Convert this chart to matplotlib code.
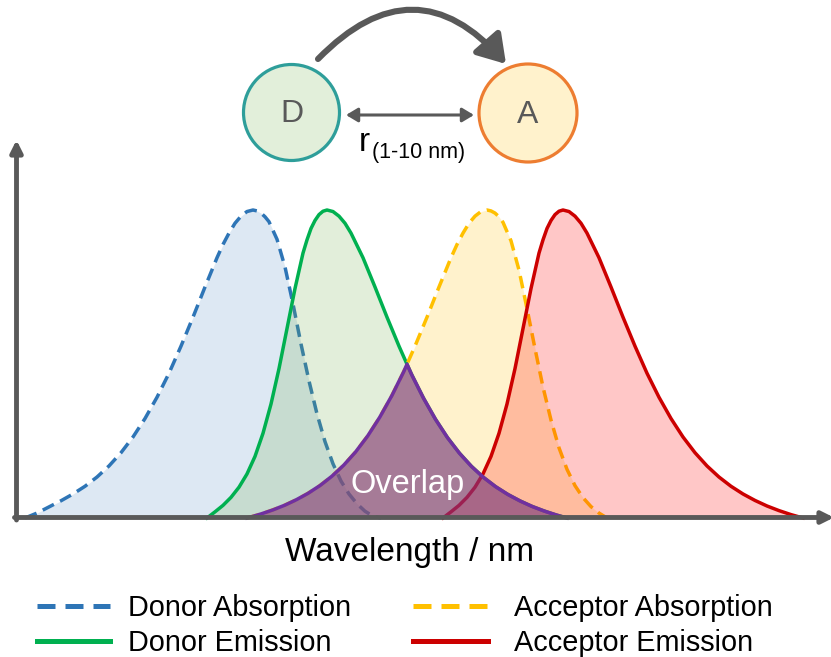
import numpy as np
import matplotlib
matplotlib.use("Agg")
import matplotlib.pyplot as plt
from matplotlib.patches import Circle, FancyArrowPatch
from matplotlib.lines import Line2D

plt.rcParams['font.family'] = ['Liberation Sans', 'DejaVu Sans']

# spectra: wavelength in arbitrary units (no ticks), intensity normalised to peak
donor_abs_wl = [25, 37, 49, 61, 73, 85, 97, 109, 121, 133, 145, 157, 169, 181, 193, 205, 217, 223, 229,
                235, 241, 247, 253, 257, 261, 265, 269, 277, 285, 293, 301, 309, 317, 325, 333, 341, 349,
                357, 365, 373, 381]
donor_abs_int = [0.0, 0.016, 0.036, 0.056, 0.078, 0.103, 0.133, 0.169, 0.212, 0.263, 0.323, 0.392, 0.47,
                 0.558, 0.652, 0.75, 0.845, 0.888, 0.925, 0.957, 0.98, 0.995, 1.0, 0.997, 0.99, 0.978,
                 0.962, 0.905, 0.815, 0.695, 0.565, 0.445, 0.338, 0.248, 0.176, 0.12, 0.078, 0.046,
                 0.022, 0.006, 0.0]

donor_em_wl = [207, 215, 223, 231, 239, 247, 255, 263, 271, 279, 287, 295, 303, 307, 311, 315, 319, 323,
               327, 333, 339, 345, 351, 363, 375, 387, 399, 411, 423, 435, 447, 459, 471, 483, 495, 507,
               519, 531, 543, 555, 567]
donor_em_int = [0.0, 0.02, 0.041, 0.067, 0.1, 0.143, 0.2, 0.275, 0.37, 0.485, 0.615, 0.745, 0.86, 0.903,
                0.94, 0.966, 0.985, 0.996, 1.0, 0.995, 0.98, 0.957, 0.925, 0.845, 0.75, 0.652, 0.558,
                0.47, 0.392, 0.323, 0.263, 0.212, 0.169, 0.133, 0.103, 0.078, 0.057, 0.039, 0.024,
                0.011, 0.0]

acc_abs_wl = [247, 259, 271, 283, 295, 307, 319, 331, 343, 355, 367, 379, 391, 403, 415, 427, 439, 451,
              457, 463, 469, 475, 481, 487, 491, 495, 499, 503, 511, 519, 527, 535, 543, 551, 559, 567,
              575, 583, 591, 599, 607]
acc_abs_int = [0.0, 0.011, 0.024, 0.039, 0.057, 0.078, 0.103, 0.133, 0.169, 0.212, 0.263, 0.323, 0.392,
               0.47, 0.558, 0.652, 0.75, 0.845, 0.888, 0.925, 0.957, 0.98, 0.995, 1.0, 0.997, 0.99,
               0.978, 0.96, 0.9, 0.805, 0.68, 0.55, 0.425, 0.318, 0.228, 0.158, 0.105, 0.066, 0.037,
               0.016, 0.0]

acc_em_wl = [443, 451, 459, 467, 475, 483, 491, 499, 507, 515, 523, 531, 539, 543, 547, 551, 555, 559,
             563, 569, 575, 581, 587, 599, 611, 623, 635, 647, 659, 671, 683, 695, 707, 719, 731, 743,
             755, 767, 779, 791, 803]
acc_em_int = [0.0, 0.02, 0.041, 0.067, 0.1, 0.143, 0.2, 0.275, 0.37, 0.485, 0.615, 0.745, 0.86, 0.903,
              0.94, 0.966, 0.985, 0.996, 1.0, 0.995, 0.98, 0.957, 0.925, 0.845, 0.75, 0.652, 0.558,
              0.47, 0.392, 0.323, 0.263, 0.212, 0.169, 0.133, 0.103, 0.078, 0.057, 0.039, 0.024,
              0.011, 0.0]

labels = ['Donor Absorption', 'Donor Emission', 'Acceptor Absorption', 'Acceptor Emission']
colors = ['#2e75b6', '#00b050', '#ffc000', '#cc0000']
fills = [('#2e75b6', 0.16), ('#70ad47', 0.2), ('#ffc000', 0.2), ('#ff0000', 0.22)]
dashed = [True, False, True, False]
gray = '#595959'

fig = plt.figure(figsize=(8.31, 6.57), dpi=100)
ax = fig.add_axes([0, 0, 1, 1])
ax.set_xlim(0, 831)
ax.set_ylim(-139 / 308, 518 / 308)
ax.axis('off')

series = [(donor_abs_wl, donor_abs_int), (donor_em_wl, donor_em_int),
          (acc_abs_wl, acc_abs_int), (acc_em_wl, acc_em_int)]
z = 1
for (wl, inten), c, (fc, fa), d in zip(series, colors, fills, dashed):
    ax.fill_between(wl, 0, inten, color=fc, alpha=fa, lw=0, zorder=z)
    ln, = ax.plot(wl, inten, color=c, lw=2.5, zorder=z + 1, solid_joinstyle='round')
    if d:
        ln.set_dashes((3.6, 2))
    z += 2

# spectral overlap = min(donor emission, acceptor absorption)
grid = np.arange(acc_abs_wl[0], donor_em_wl[-1] + 0.25, 0.25)
ov_int = np.minimum(np.interp(grid, donor_em_wl, donor_em_int), np.interp(grid, acc_abs_wl, acc_abs_int))
ax.fill_between(grid, 0, ov_int, color='#7c3688', alpha=0.6, lw=0, zorder=9)
ax.plot(grid, ov_int, color='#7030a0', lw=2.5, zorder=10, solid_joinstyle='round')
ax.text(408, 0.11, 'Overlap', color='white', fontsize=23.5, ha='center', va='center', zorder=11)

# overlay in pixel coords for axes arrows, FRET scheme, labels
ov = fig.add_axes([0, 0, 1, 1])
ov.set_xlim(0, 831)
ov.set_ylim(657, 0)
ov.axis('off')
ov.patch.set_alpha(0)

ov.annotate('', xy=(16.5, 140), xytext=(16.5, 520), annotation_clip=False,
            arrowprops=dict(arrowstyle='-|>,head_length=0.5,head_width=0.25', color=gray, lw=3.5,
                            mutation_scale=14, shrinkA=0, shrinkB=0))
ov.annotate('', xy=(834, 517.5), xytext=(14.5, 517.5), annotation_clip=False,
            arrowprops=dict(arrowstyle='-|>,head_length=0.5,head_width=0.25', color=gray, lw=3.5,
                            mutation_scale=14, shrinkA=0, shrinkB=0))

ov.add_patch(Circle((291.5, 112.5), 48, facecolor='#e2efda', edgecolor='#2e9e9a', lw=2.3))
ov.add_patch(Circle((528, 113), 49, facecolor='#fff2cc', edgecolor='#ed7d31', lw=2.3))
ov.text(291.5, 114, 'D', fontsize=23, color=gray, ha='center', va='center')
ov.text(528, 115, 'A', fontsize=23, color=gray, ha='center', va='center')

ov.annotate('', xy=(346, 115), xytext=(474, 115),
            arrowprops=dict(arrowstyle='<|-|>,head_length=0.5,head_width=0.3', color=gray, lw=2.2,
                            mutation_scale=14, shrinkA=0, shrinkB=0))
ov.text(359, 151, 'r', fontsize=24, color='black', ha='left', va='baseline')
ov.text(372, 158, '(1-10 nm)', fontsize=15.5, color='black', ha='left', va='baseline')

ov.add_patch(FancyArrowPatch((318, 59), (506, 64), connectionstyle='arc3,rad=-0.54',
                             arrowstyle='-|>,head_length=0.55,head_width=0.35', mutation_scale=30,
                             color=gray, lw=4.4, shrinkA=0, shrinkB=0))

ov.text(410, 552, 'Wavelength / nm', fontsize=24, ha='center', va='center')

handles = []
for c, d in zip(colors, dashed):
    h = Line2D([0], [0], color=c, lw=3.6)
    if d:
        h.set_dashes((3.6, 2))
    handles.append(h)
leg_kw = dict(loc='upper left', frameon=False, fontsize=20.8, labelspacing=0.22,
              borderpad=0, borderaxespad=0)
leg1 = ov.legend(handles[:2], labels[:2], bbox_to_anchor=(37 / 831, 1 - 594.5 / 657),
                 handlelength=2.52, handletextpad=0.63, **leg_kw)
ov.add_artist(leg1)
ov.legend(handles[2:], labels[2:], bbox_to_anchor=(413 / 831, 1 - 594.5 / 657),
          handlelength=2.58, handletextpad=0.93, **leg_kw)

fig.savefig('out.png', dpi=100)
